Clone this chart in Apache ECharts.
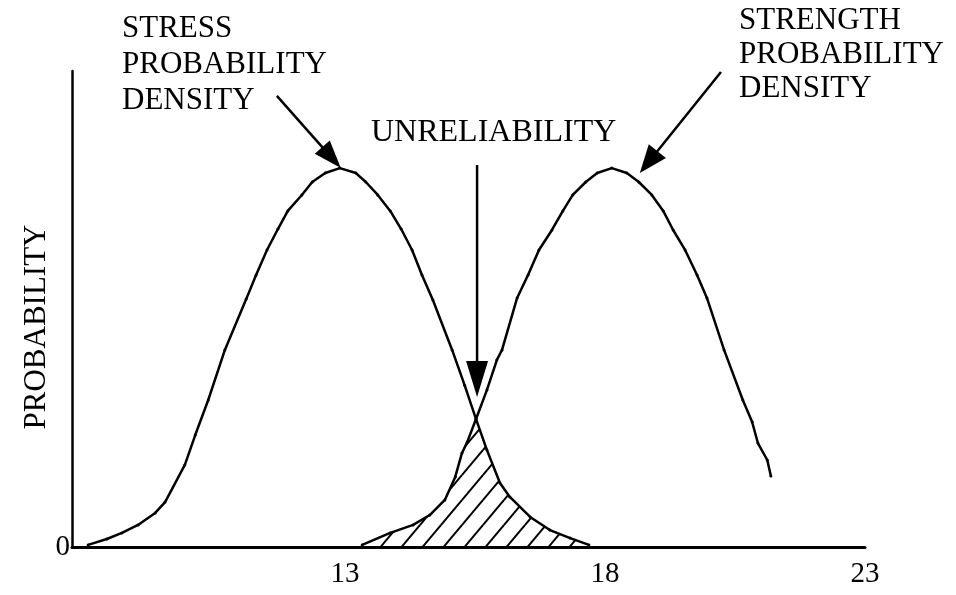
<!DOCTYPE html>
<html><head><meta charset="utf-8">
<script src="https://cdn.jsdelivr.net/npm/echarts@6/dist/echarts.min.js"></script>
<style>html,body{margin:0;padding:0;background:#fff}#c{width:956px;height:595px}</style>
</head><body><div id="c"></div>
<script>
// ---- data ----
const xTickValues = [13, 18, 23];
const yTickValues = [0];
const stressX = [8.06, 8.42, 8.71, 9.02, 9.35, 9.54, 9.92, 10.12, 10.37, 10.69, 11.10, 11.29, 11.50, 11.71, 11.90, 12.17, 12.37, 12.62, 12.90, 13.21, 13.40, 13.63, 13.87, 14.08, 14.29, 14.48, 14.69, 15.06, 15.30, 15.52, 15.73, 15.98, 16.17, 16.56, 16.94, 17.33, 17.69];
const stressY = [0.0011, 0.0042, 0.0074, 0.0116, 0.0179, 0.0236, 0.0431, 0.0588, 0.0772, 0.1035, 0.1302, 0.1429, 0.1560, 0.1670, 0.1765, 0.1849, 0.1917, 0.1964, 0.1990, 0.1964, 0.1917, 0.1849, 0.1765, 0.1670, 0.1560, 0.1429, 0.1297, 0.1035, 0.0850, 0.0672, 0.0509, 0.0336, 0.0263, 0.0158, 0.0089, 0.0047, 0.0011];
const strengthX = [13.33, 13.87, 14.31, 14.63, 14.92, 15.12, 15.25, 15.35, 15.52, 15.73, 15.92, 16.02, 16.31, 16.52, 16.73, 16.98, 17.19, 17.38, 17.63, 17.85, 18.13, 18.42, 18.65, 18.90, 19.12, 19.31, 19.54, 19.77, 19.96, 20.29, 20.65, 20.83, 20.94, 21.12, 21.19];
const strengthY = [0.0011, 0.0074, 0.0116, 0.0168, 0.0247, 0.0368, 0.0494, 0.0551, 0.0672, 0.0825, 0.0982, 0.1035, 0.1308, 0.1429, 0.1560, 0.1665, 0.1765, 0.1849, 0.1917, 0.1964, 0.1990, 0.1964, 0.1917, 0.1849, 0.1765, 0.1665, 0.1560, 0.1429, 0.1308, 0.1035, 0.0772, 0.0656, 0.0546, 0.0457, 0.0373];
const labelStress = 'STRESS\nPROBABILITY\nDENSITY';
const labelStrength = 'STRENGTH\nPROBABILITY\nDENSITY';
const labelUnrel = 'UNRELIABILITY';
const yAxisTitle = 'PROBABILITY';
// annotation arrows: [fromX, fromY, toX, toY] in data units
const arrowStress = [11.69, 0.2369, 12.92, 0.1990];
const arrowStrength = [20.23, 0.2495, 18.67, 0.1964];
const arrowUnrel = [15.54, 0.2006, 15.54, 0.0788];

// ---- build ----
const zip = (xs, ys) => xs.map((x, i) => [x, ys[i]]);
const stress = zip(stressX, stressY);
const strength = zip(strengthX, strengthY);
// crossing point = point shared by both curves
const cross = stress.find(p => strength.some(q => q[0] === p[0] && q[1] === p[1]));
const overlap = strength.filter(p => p[0] <= cross[0]).concat(stress.filter(p => p[0] > cross[0]));

// hatch pattern
const W = 21, H = 25;
const tile = document.createElement('canvas');
tile.width = W; tile.height = H;
const g = tile.getContext('2d');
g.strokeStyle = '#000'; g.lineWidth = 2;
[[0, H, W, 0], [-W, H, 0, 0], [W, H, 2 * W, 0], [0, 2 * H, W, H], [0, 0, W, -H]].forEach(l => {
  g.beginPath(); g.moveTo(l[0], l[1]); g.lineTo(l[2], l[3]); g.stroke();
});

const FONT = 'Liberation Serif, Times New Roman, serif';
const chart = echarts.init(document.getElementById('c'), null, { renderer: 'canvas' });
const option = {
  animation: false,
  backgroundColor: '#fff',
  grid: { left: 72, right: 91, top: 71, bottom: 48 },
  xAxis: {
    type: 'value', min: 7.75, max: 23,
    axisLine: { lineStyle: { color: '#000', width: 3 } },
    axisTick: { show: false }, splitLine: { show: false },
    axisLabel: { customValues: xTickValues, color: '#000', fontSize: 29, fontFamily: FONT, margin: 13 }
  },
  yAxis: {
    type: 'value', min: 0, max: 0.25,
    axisLine: { show: true, lineStyle: { color: '#000', width: 2.5 } },
    axisTick: { show: false }, splitLine: { show: false },
    axisLabel: { customValues: yTickValues, color: '#000', fontSize: 29, fontFamily: FONT, margin: 2 }
  },
  series: [
    { type: 'line', data: overlap, showSymbol: false, lineStyle: { width: 0 }, z: 1,
      areaStyle: { color: { image: tile, repeat: 'repeat' }, opacity: 1 } },
    { type: 'line', data: stress, symbol: 'circle', symbolSize: 3, z: 3,
      itemStyle: { color: '#000' }, lineStyle: { color: '#000', width: 2.5 } },
    { type: 'line', data: strength, symbol: 'circle', symbolSize: 3, z: 3,
      itemStyle: { color: '#000' }, lineStyle: { color: '#000', width: 2.5 } }
  ]
};
chart.setOption(option);

function arrow(a, len, wid) {
  const p0 = chart.convertToPixel({ gridIndex: 0 }, [a[0], a[1]]);
  const p1 = chart.convertToPixel({ gridIndex: 0 }, [a[2], a[3]]);
  const dx = p1[0] - p0[0], dy = p1[1] - p0[1];
  const d = Math.hypot(dx, dy), ux = dx / d, uy = dy / d;
  const bx = p1[0] - ux * len, by = p1[1] - uy * len;
  const nx = -uy * wid / 2, ny = ux * wid / 2;
  return [
    { type: 'line', shape: { x1: p0[0], y1: p0[1], x2: bx + ux * 2, y2: by + uy * 2 }, style: { stroke: '#000', lineWidth: 2.5 }, z: 10 },
    { type: 'polygon', shape: { points: [[p1[0], p1[1]], [bx + nx, by + ny], [bx - nx, by - ny]] }, style: { fill: '#000' }, z: 10 }
  ];
}
const txt = (text, left, top, lh, fs) => ({ type: 'text', left, top, z: 10,
  style: { text, fill: '#000', fontSize: fs || 31, fontFamily: FONT, lineHeight: lh } });

chart.setOption({
  graphic: [
    txt(labelStress, 122, 11, 36),
    txt(labelStrength, 739, 4, 34),
    txt(labelUnrel, 371, 116, 34, 32),
    { type: 'text', x: 37, y: 327, rotation: Math.PI / 2, z: 10,
      style: { text: yAxisTitle, fill: '#000', fontSize: 31, fontFamily: FONT, align: 'center', verticalAlign: 'middle' } },
    ...arrow(arrowStress, 28, 20),
    ...arrow(arrowStrength, 28, 22),
    ...arrow(arrowUnrel, 36, 22)
  ]
});
</script>
</body></html>
